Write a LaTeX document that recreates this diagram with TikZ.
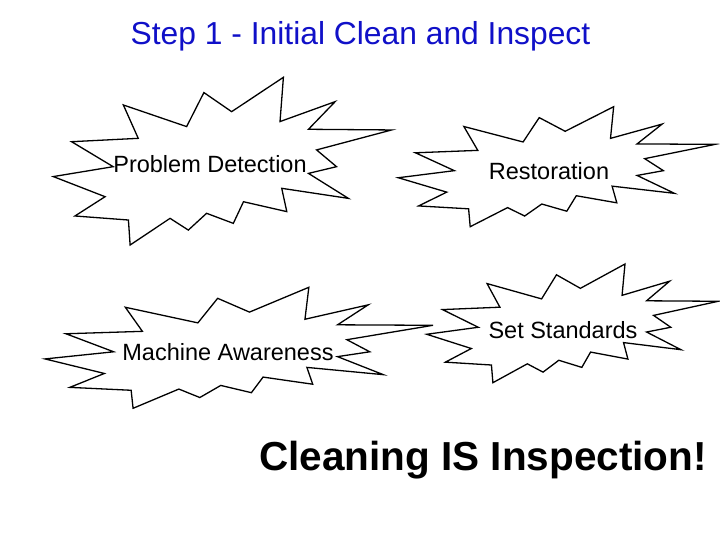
\documentclass[tikz,border=0pt]{standalone}
\usepackage{fontspec}
\setmainfont{Liberation Sans}
\definecolor{titleblue}{RGB}{16,16,200}
\begin{document}
\begin{tikzpicture}[x=1pt,y=-1pt,
  burstline/.style={draw=black,line width=1.3pt,line join=miter},
  burstshape/.style={insert path={(0.680,0) -- (0.670,0.264) -- (0.833,0.145) -- (0.754,0.310) -- (1.0,0.314) -- (0.778,0.433) -- (0.837,0.533) -- (0.754,0.573) -- (0.872,0.722) -- (0.675,0.662) -- (0.690,0.801) -- (0.562,0.742) -- (0.532,0.871) -- (0.453,0.811) -- (0.399,0.911) -- (0.345,0.841) -- (0.227,1.0) -- (0.222,0.851) -- (0.064,0.827) -- (0.153,0.712) -- (0,0.592) -- (0.177,0.533) -- (0.054,0.384) -- (0.251,0.364) -- (0.207,0.165) -- (0.394,0.294) -- (0.445,0.091) -- (0.527,0.205) -- cycle}},
  label/.style={anchor=base,inner sep=0pt,font=\fontsize{23.5}{28}\selectfont}]
\useasboundingbox (0,0) rectangle (720,540);
\fill[white] (0,0) rectangle (720,540);

\begin{scope}[shift={(53.3,77.3)},xscale=338.4,yscale=167.7]
  \draw[burstline] [burstshape];
\end{scope}
\begin{scope}[shift={(398.3,106.7)},xscale=316.7,yscale=120]
  \draw[burstline] [burstshape];
\end{scope}
\begin{scope}[shift={(45,287.3)},xscale=388,yscale=121]
  \draw[burstline] [burstshape];
\end{scope}
\begin{scope}[shift={(426.7,264)},xscale=291.6,yscale=118.7]
  \draw[burstline] [burstshape];
\end{scope}

\node[anchor=base,inner sep=0pt,text=titleblue,font=\fontsize{31.8}{36}\selectfont] (title) at (360.5,45) {Step 1 - Initial Clean and Inspect};
\node[label] (pd) at (210,173) {Problem Detection};
\node[label] (rest) at (549,180) {Restoration};
\node[label] (ma) at (228,360) {Machine Awareness};
\node[label] (ss) at (563,338) {Set Standards};
\node[anchor=base,inner sep=0pt,font=\fontsize{40.5}{45}\selectfont\bfseries] (clean) at (483,470) {Cleaning IS Inspection!};
\end{tikzpicture}
\end{document}
